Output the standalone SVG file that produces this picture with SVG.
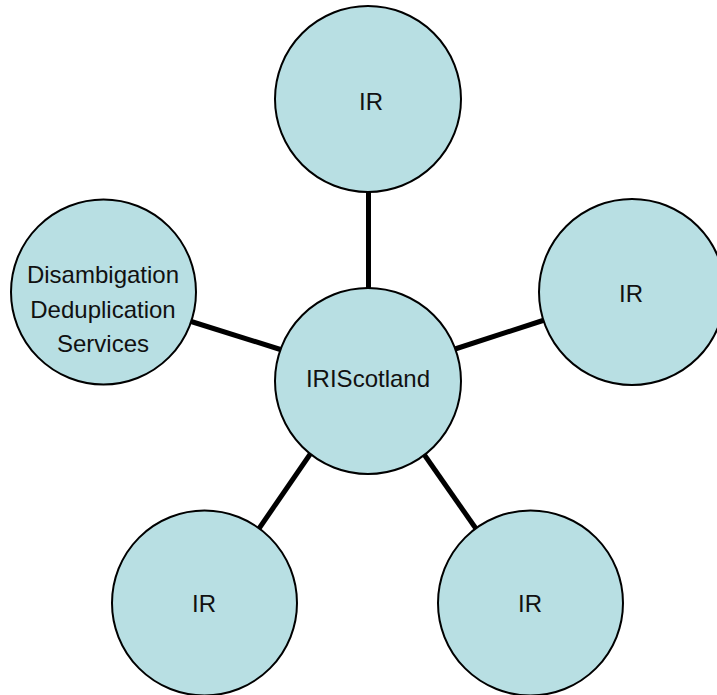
<svg xmlns="http://www.w3.org/2000/svg" width="717" height="695" viewBox="0 0 717 695">
<style>
.node{fill:#B8DFE3;stroke:#000;stroke-width:2}
.lbl{font-family:"Liberation Sans",Arial,sans-serif;font-size:24px;fill:#111;text-anchor:middle}
.edge{stroke:#000;stroke-width:5;fill:none}
</style>
<rect width="717" height="695" fill="#fff"/>
<g id="connectors">
<line class="edge" x1="368.5" y1="190" x2="368.5" y2="290"/>
<line class="edge" x1="188" y1="320.5" x2="282" y2="350"/>
<line class="edge" x1="452" y1="350" x2="546" y2="319.5"/>
<line class="edge" x1="313" y1="450" x2="258" y2="530"/>
<line class="edge" x1="421" y1="450" x2="479" y2="533"/>
</g>
<g id="center">
<circle class="node" cx="368" cy="381" r="93"/>
<text class="lbl" x="368" y="387">IRIScotland</text>
</g>
<g id="ir-top">
<circle class="node" cx="368" cy="99" r="93"/>
<text class="lbl" x="371" y="110">IR</text>
</g>
<g id="ir-right">
<circle class="node" cx="632" cy="292" r="93"/>
<text class="lbl" x="631" y="302">IR</text>
</g>
<g id="services">
<circle class="node" cx="103.5" cy="292" r="92.5"/>
<text class="lbl" x="103" y="283">Disambigation</text>
<text class="lbl" x="103" y="318">Deduplication</text>
<text class="lbl" x="103" y="352">Services</text>
</g>
<g id="ir-bottom-left">
<circle class="node" cx="204.5" cy="603" r="92.5"/>
<text class="lbl" x="204" y="612">IR</text>
</g>
<g id="ir-bottom-right">
<circle class="node" cx="530.5" cy="603" r="92.5"/>
<text class="lbl" x="530" y="612">IR</text>
</g>
</svg>
